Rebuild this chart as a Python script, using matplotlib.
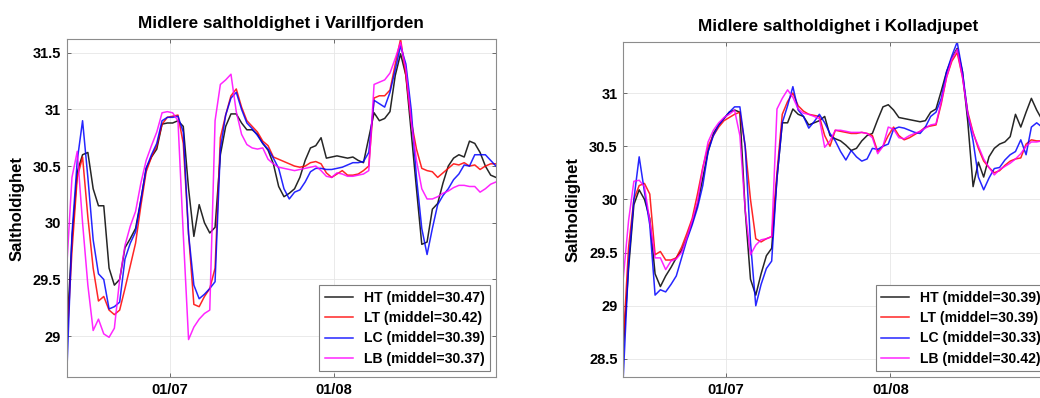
import matplotlib
matplotlib.use("Agg")
import matplotlib.pyplot as plt
import matplotlib.dates as mdates
from matplotlib.ticker import FuncFormatter, FixedLocator
import pandas as pd

plt.rcParams["font.family"] = ["Liberation Sans", "DejaVu Sans"]
plt.rcParams["font.weight"] = "bold"
plt.rcParams["axes.titleweight"] = "bold"
plt.rcParams["axes.labelweight"] = "bold"

# daily mean salinity, 11 June - 31 August
dates = pd.date_range("2018-06-11 14:00", periods=82, freq="D")

stations = ["HT", "LT", "LC", "LB"]
colors = ["black", "red", "blue", "magenta"]

# Varillfjorden
var_ht = [29.0, 29.85, 30.45, 30.6, 30.62, 30.3, 30.15, 30.15, 29.6, 29.45,
          29.5, 29.78, 29.86, 29.95, 30.2, 30.48, 30.58, 30.65, 30.87, 30.88,
          30.88, 30.9, 30.85, 30.3, 29.88, 30.16, 30.0, 29.91, 29.96, 30.6,
          30.85, 30.96, 30.96, 30.88, 30.82, 30.82, 30.78, 30.7, 30.64, 30.52,
          30.32, 30.23, 30.26, 30.3, 30.4, 30.55, 30.66, 30.68, 30.75, 30.57,
          30.58, 30.59, 30.58, 30.57, 30.58, 30.55, 30.53, 30.75, 30.97, 30.9,
          30.92, 30.98, 31.3, 31.49, 31.3, 30.8, 30.3, 29.81, 29.83, 30.12,
          30.17, 30.35, 30.5, 30.57, 30.6, 30.58, 30.72, 30.7, 30.62, 30.5,
          30.42, 30.4]
var_lt = [28.9, 29.75, 30.4, 30.58, 30.05, 29.6, 29.31, 29.35, 29.23, 29.19,
          29.23, 29.42, 29.62, 29.82, 30.15, 30.45, 30.58, 30.68, 30.87, 30.93,
          30.94, 30.95, 30.7, 29.9, 29.28, 29.26, 29.35, 29.42, 29.6, 30.75,
          30.95, 31.12, 31.18, 31.02, 30.9, 30.85, 30.8, 30.72, 30.68, 30.58,
          30.56, 30.54, 30.52, 30.5, 30.49, 30.5, 30.53, 30.54, 30.52, 30.44,
          30.4, 30.43, 30.46, 30.42, 30.42, 30.43, 30.46, 30.5, 31.1, 31.12,
          31.12, 31.17, 31.4, 31.62, 31.3, 30.9, 30.65, 30.48, 30.46, 30.45,
          30.4, 30.44, 30.48, 30.52, 30.51, 30.53, 30.5, 30.51, 30.47, 30.5,
          30.52, 30.52]
var_lc = [28.64, 29.9, 30.55, 30.9, 30.4, 29.85, 29.55, 29.5, 29.24, 29.26,
          29.3, 29.68, 29.82, 29.92, 30.2, 30.48, 30.6, 30.7, 30.9, 30.93,
          30.93, 30.94, 30.8, 29.9, 29.45, 29.33, 29.37, 29.42, 29.48, 30.65,
          30.95, 31.1, 31.15, 31.0, 30.88, 30.83, 30.77, 30.7, 30.65, 30.57,
          30.48, 30.3, 30.21, 30.27, 30.29, 30.36, 30.45, 30.48, 30.48, 30.47,
          30.47, 30.48, 30.49, 30.51, 30.53, 30.53, 30.54, 30.62, 31.08, 31.05,
          31.02, 31.15, 31.35, 31.56, 31.4, 31.0, 30.4, 29.95, 29.72, 29.95,
          30.16, 30.24, 30.3, 30.38, 30.43, 30.51, 30.5, 30.6, 30.6, 30.6,
          30.55, 30.5]
var_lb = [29.6, 30.4, 30.63, 30.0, 29.45, 29.05, 29.15, 29.02, 28.99, 29.07,
          29.5, 29.8, 29.97, 30.1, 30.35, 30.55, 30.68, 30.8, 30.97, 30.98,
          30.97, 30.9, 29.9, 28.97, 29.08, 29.15, 29.2, 29.23, 30.9, 31.22,
          31.26, 31.31, 30.98, 30.78, 30.69, 30.66, 30.65, 30.66, 30.56, 30.52,
          30.49, 30.48, 30.47, 30.46, 30.47, 30.48, 30.49, 30.5, 30.46, 30.41,
          30.4, 30.44, 30.43, 30.41, 30.41, 30.42, 30.43, 30.46, 31.22, 31.24,
          31.26, 31.32, 31.45, 31.59, 31.35, 30.9, 30.55, 30.3, 30.21, 30.21,
          30.23, 30.26, 30.28, 30.31, 30.33, 30.33, 30.32, 30.32, 30.27, 30.3,
          30.34, 30.36]
var_mean = [30.47, 30.42, 30.39, 30.37]

# Kolladjupet
kol_ht = [28.6, 29.35, 29.95, 30.09, 30.0, 29.82, 29.3, 29.18, 29.28, 29.36,
          29.45, 29.52, 29.64, 29.78, 29.95, 30.2, 30.45, 30.62, 30.7, 30.76,
          30.82, 30.84, 30.82, 29.9, 29.25, 29.1, 29.3, 29.47, 29.54, 30.2,
          30.72, 30.72, 30.85, 30.8, 30.78, 30.7, 30.72, 30.74, 30.78, 30.6,
          30.57, 30.55, 30.51, 30.46, 30.48, 30.55, 30.6, 30.62, 30.75, 30.87,
          30.89, 30.84, 30.77, 30.76, 30.75, 30.74, 30.73, 30.74, 30.82, 30.85,
          31.02, 31.2, 31.33, 31.42, 31.2, 30.73, 30.12, 30.35, 30.21, 30.4,
          30.48, 30.52, 30.54, 30.59, 30.8, 30.68, 30.82, 30.95, 30.84, 30.75,
          30.7, 30.68]
kol_lt = [28.65, 29.55, 30.0, 30.13, 30.15, 30.05, 29.48, 29.51, 29.43, 29.43,
          29.45, 29.55, 29.68, 29.82, 30.05, 30.3, 30.5, 30.6, 30.68, 30.74,
          30.77, 30.8, 30.82, 30.5, 30.0, 29.63, 29.6, 29.63, 29.65, 30.25,
          30.8, 30.92, 31.0, 30.88, 30.83, 30.8, 30.79, 30.78, 30.6, 30.5,
          30.65, 30.64, 30.63, 30.62, 30.62, 30.63, 30.62, 30.6, 30.45, 30.5,
          30.6, 30.68, 30.6, 30.56, 30.58, 30.61, 30.64, 30.68, 30.69, 30.7,
          30.9, 31.15, 31.3, 31.38, 31.15, 30.82, 30.63, 30.48, 30.36, 30.3,
          30.25, 30.27, 30.32, 30.36, 30.38, 30.39, 30.52, 30.56, 30.55, 30.55,
          30.55, 30.55]
kol_lc = [28.33, 29.4, 30.0, 30.4, 30.07, 29.76, 29.1, 29.15, 29.13, 29.2,
          29.28, 29.45, 29.62, 29.76, 29.92, 30.13, 30.45, 30.6, 30.7, 30.76,
          30.82, 30.87, 30.87, 30.5, 29.6, 29.0, 29.2, 29.35, 29.42, 30.2,
          30.72, 30.88, 31.06, 30.84, 30.78, 30.67, 30.73, 30.8, 30.72, 30.62,
          30.55, 30.45, 30.37, 30.46, 30.4, 30.36, 30.38, 30.48, 30.47, 30.5,
          30.52, 30.66, 30.68, 30.67, 30.65, 30.63, 30.62, 30.68, 30.78, 30.82,
          30.95, 31.2, 31.35, 31.48, 31.2, 30.8, 30.55, 30.21, 30.09, 30.2,
          30.29, 30.3, 30.37, 30.42, 30.45, 30.56, 30.42, 30.68, 30.72, 30.68,
          30.62, 30.6]
kol_lb = [29.26, 29.8, 30.17, 30.18, 30.12, 29.8, 29.45, 29.45, 29.34, 29.42,
          29.44, 29.5, 29.64, 29.8, 29.98, 30.29, 30.54, 30.65, 30.72, 30.77,
          30.8, 30.84, 30.6, 29.9, 29.48, 29.57, 29.62, 29.63, 29.65, 30.85,
          30.95, 31.03, 30.96, 30.85, 30.81, 30.8, 30.78, 30.76, 30.49, 30.55,
          30.65, 30.65, 30.64, 30.63, 30.63, 30.63, 30.62, 30.58, 30.43, 30.5,
          30.68, 30.66, 30.58, 30.57, 30.6, 30.62, 30.64, 30.67, 30.7, 30.71,
          30.92, 31.15, 31.32, 31.41, 31.15, 30.8, 30.62, 30.5, 30.38, 30.3,
          30.23, 30.28, 30.31, 30.34, 30.38, 30.43, 30.5, 30.54, 30.54, 30.55,
          30.55, 30.55]
kol_mean = [30.39, 30.39, 30.33, 30.42]

panels = [
    ("Midlere saltholdighet i Varillfjorden", [var_ht, var_lt, var_lc, var_lb], var_mean,
     [0.0641, 0.0528, 0.4128, 0.849], [29, 29.5, 30, 30.5, 31, 31.5]),
    ("Midlere saltholdighet i Kolladjupet", [kol_ht, kol_lt, kol_lc, kol_lb], kol_mean,
     [0.5993, 0.0528, 0.4128, 0.8417], [28.5, 29, 29.5, 30, 30.5, 31]),
]

fig = plt.figure(figsize=(10.4, 3.98), dpi=100)

for title, series, means, rect, yticks in panels:
    ax = fig.add_axes(rect)
    for name, vals, col, m in zip(stations, series, colors, means):
        ax.plot(dates, vals, color=col, lw=1.1, alpha=0.85,
                label=f"{name} (middel={m:.2f})")

    lo = min(min(s) for s in series)
    hi = max(max(s) for s in series)
    ax.set_ylim(lo, hi)
    ax.set_xlim(dates[0], dates[-1])

    ax.xaxis.set_major_locator(FixedLocator(mdates.date2num(
        [pd.Timestamp("2018-07-01"), pd.Timestamp("2018-08-01")])))
    ax.xaxis.set_major_formatter(mdates.DateFormatter("%d/%m"))
    ax.set_yticks(yticks)
    ax.yaxis.set_major_formatter(FuncFormatter(lambda v, p: f"{v:g}"))

    ax.grid(True, color="#e6e6e6", lw=0.6)
    ax.tick_params(direction="in", length=3, width=0.6, labelsize=10.5,
                   top=True, right=True, color="#555555", pad=4)
    for sp in ax.spines.values():
        sp.set_color("#8c8c8c")
        sp.set_linewidth(0.8)

    ax.set_title(title, fontsize=12.3, pad=8)
    ax.set_ylabel("Saltholdighet", fontsize=12, labelpad=6)

    leg = ax.legend(loc="lower right", fontsize=10.1, handlelength=2.0,
                    labelspacing=0.45, borderaxespad=0.4, fancybox=False,
                    framealpha=1.0, edgecolor="#7f7f7f")
    leg.get_frame().set_linewidth(0.8)

fig.savefig("out.png", dpi=100)
